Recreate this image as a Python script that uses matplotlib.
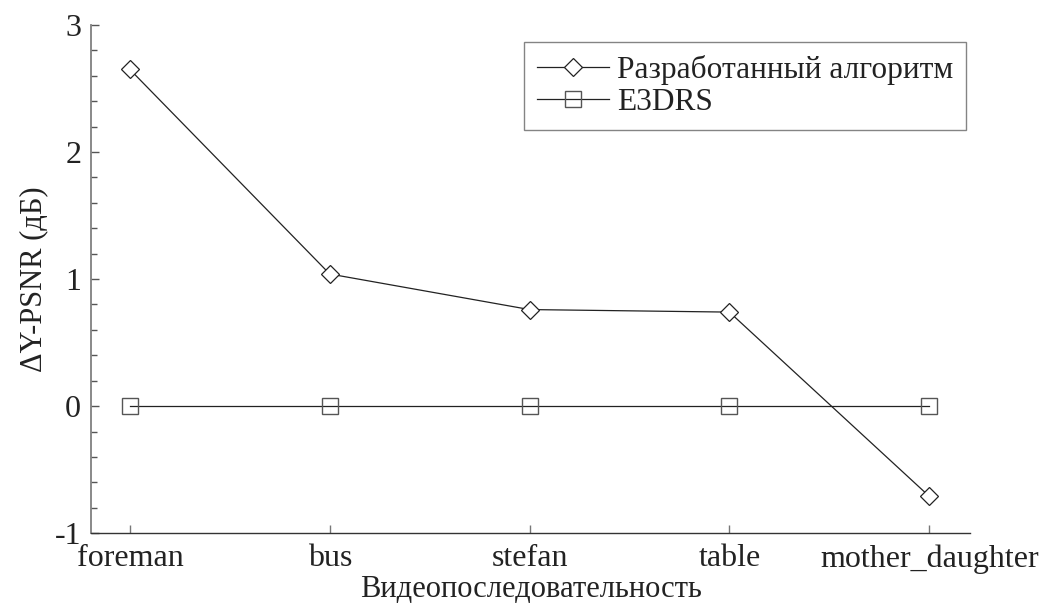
import numpy as np
import matplotlib.pyplot as plt
from matplotlib.ticker import MultipleLocator

plt.rcParams['font.family'] = ['Liberation Serif', 'DejaVu Serif']
plt.rcParams['axes.unicode_minus'] = False

sequences = ["foreman", "bus", "stefan", "table", "mother_daughter"]
proposed = [2.65, 1.04, 0.76, 0.74, -0.71]
e3drs = [0, 0, 0, 0, 0]

fs = 23
fig = plt.figure(figsize=(10.43, 6.10), dpi=100)
ax = fig.add_axes([0.0872, 0.126, 0.843, 0.833])

x = np.arange(1, len(sequences) + 1)
line_col = "#222222"
ax.plot(x, proposed, color=line_col, lw=0.9, marker="D", ms=9.2,
        mfc="white", mec=line_col, mew=0.9, label="Разработанный алгоритм")
ax.plot(x, e3drs, color=line_col, lw=0.9, marker="s", ms=11,
        mfc="none", mec="#555555", mew=1.0, label="E3DRS")

ax.set_xlim(0.805, 5.205)
ax.set_ylim(-1, 3)
ax.set_xticks(x)
ax.set_xticklabels(sequences)
ax.yaxis.set_major_locator(MultipleLocator(1))
ax.yaxis.set_minor_locator(MultipleLocator(0.2))

for side in ("top", "right"):
    ax.spines[side].set_visible(False)
ax.spines["left"].set_color("#808080")
ax.spines["left"].set_linewidth(1.3)
ax.spines["bottom"].set_color("#333333")
ax.spines["bottom"].set_linewidth(1.0)

ax.tick_params(axis="both", which="major", direction="in", length=6,
               width=1.0, labelsize=fs, colors="#222222")
ax.tick_params(axis="y", which="major", color="#555555", pad=7)
ax.tick_params(axis="y", which="minor", direction="in", length=4,
               width=1.0, color="#555555")
ax.tick_params(axis="x", which="major", color="#777777", pad=8)

ax.set_ylabel("ΔY-PSNR (дБ)", fontsize=22, color="#222222", labelpad=5)
ax.set_xlabel("Видеопоследовательность", fontsize=22, color="#222222", labelpad=1)

leg = ax.legend(loc="upper right", bbox_to_anchor=(0.995, 0.9665), fontsize=22.6,
                frameon=True, fancybox=False, handlelength=2.3,
                handletextpad=0.25, borderpad=0.4, labelspacing=0.12,
                borderaxespad=0)
leg.get_frame().set_edgecolor("#666666")
leg.get_frame().set_linewidth(1.0)
for t in leg.get_texts():
    t.set_color("#222222")

fig.savefig("out.png", dpi=100)
